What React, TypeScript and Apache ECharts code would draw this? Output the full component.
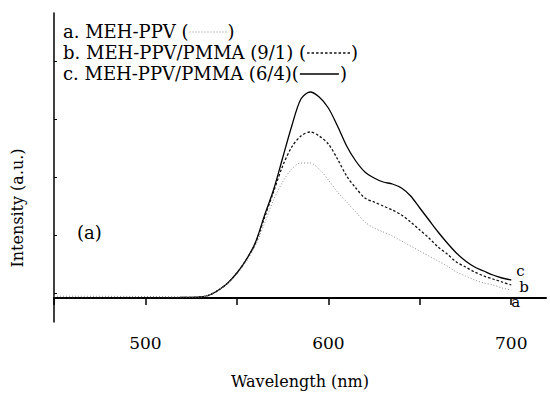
import React, { useEffect, useRef } from 'react';
import * as echarts from 'echarts';

const wavelengths = [450, 500, 520, 530, 535, 540, 545, 550, 555, 560, 565, 570, 575, 580, 585, 590, 595, 600, 605, 610, 615, 620, 625, 630, 635, 640, 645, 650, 655, 660, 665, 670, 675, 680, 685, 690, 695, 700];
const seriesA = [1.8, 1.5, 1.2, 1, 3, 8, 15, 24, 36, 52, 74, 98, 116, 129, 135, 135, 129, 118, 106, 96, 86, 76, 70, 66, 62, 57, 52, 47, 42, 37, 32, 26, 22, 18, 15, 13, 10, 8];
const seriesB = [0, 0, 0.5, 1, 3, 8, 15, 25, 38, 54, 80, 106, 132, 151, 162, 166, 162, 154, 139, 122, 110, 100, 96, 92, 88, 83, 76, 68, 60, 51, 44, 36, 31, 26, 22, 19, 16, 13];
const seriesC = [0, 0, 0.5, 1, 3, 8, 15, 25, 38, 55, 82, 108, 140, 172, 199, 206, 201, 190, 172, 152, 137, 126, 120, 116, 114, 110, 102, 90, 78, 66, 55, 45, 37, 31, 27, 23, 20, 18];

const seriesNames = ['a', 'b', 'c'];
const legendTexts = ['a. MEH-PPV (', 'b. MEH-PPV/PMMA (9/1) (', 'c. MEH-PPV/PMMA (6/4)('];
const xTickValues = [450, 500, 550, 600, 650, 700];
const xLabelValues = [500, 600, 700];
const yTickValues = [5, 63, 121, 179, 237];
const xAxisTitle = 'Wavelength (nm)';
const yAxisTitle = 'Intensity (a.u.)';
const panelLabel = '(a)';

const FONT = 'DejaVu Serif';

const lineStyles = [
  { color: '#8a8a8a', width: 1, type: [1, 2] as any },
  { color: '#111', width: 1.3, type: [2.5, 2] as any },
  { color: '#000', width: 1.3, type: 'solid' as any },
];

function measure(text: string, size: number) {
  const c = document.createElement('canvas').getContext('2d');
  if (!c) return text.length * size * 0.6;
  c.font = `${size}px "DejaVu Serif"`;
  return c.measureText(text).width;
}

export default function App() {
  const ref = useRef<HTMLDivElement>(null);
  useEffect(() => {
    if (!ref.current) return;
    const chart = echarts.init(ref.current, undefined, { renderer: 'svg' });
    const legendSize = 18;
    const rowCenters = [31, 52, 73];
    const sampleLens = [40, 46, 42];
    const graphics: any[] = [];
    legendTexts.forEach((t, i) => {
      const w = measure(t, legendSize);
      const x0 = 63;
      const y = rowCenters[i];
      graphics.push({
        type: 'text', x: x0, y,
        style: { text: t, fontFamily: FONT, fontSize: legendSize, fill: '#000', verticalAlign: 'middle', align: 'left' },
      });
      const ls = lineStyles[i];
      graphics.push({
        type: 'line',
        shape: { x1: x0 + w + 1, y1: y + 1, x2: x0 + w + sampleLens[i] - 2, y2: y + 1 },
        style: { stroke: ls.color, lineWidth: ls.width, lineDash: ls.type === 'solid' ? null : ls.type },
      });
      graphics.push({
        type: 'text', x: x0 + w + sampleLens[i] - 1, y,
        style: { text: ')', fontFamily: FONT, fontSize: legendSize, fill: '#000', verticalAlign: 'middle', align: 'left' },
      });
    });
    graphics.push({
      type: 'text', x: 77, y: 232,
      style: { text: panelLabel, fontFamily: FONT, fontSize: 18, fill: '#000', verticalAlign: 'middle' },
    });
    graphics.push({
      type: 'text', x: 17, y: 208, rotation: Math.PI / 2,
      style: { text: yAxisTitle, fontFamily: FONT, fontSize: 16, fill: '#000', align: 'center', verticalAlign: 'middle' },
    });

    const dataSets = [seriesA, seriesB, seriesC];
    const endOffsets = [[-8, 12], [0, 2], [-3, -9]];
    chart.setOption({
      animation: false,
      backgroundColor: '#fff',
      grid: { left: 54, right: 4, top: 13, bottom: 79 },
      xAxis: {
        type: 'value', min: 450, max: 719, interval: 50,
        axisLine: { lineStyle: { color: '#000', width: 2 } },
        axisTick: { show: true, length: 7, inside: false, customValues: xTickValues, lineStyle: { color: '#000', width: 1.5 } },
        axisLabel: {
          customValues: xLabelValues, margin: 12, fontSize: 17, color: '#000', fontFamily: FONT,
          formatter: (v: number) => (v % 100 === 0 ? String(v) : ''),
        },
        splitLine: { show: false },
        name: xAxisTitle, nameLocation: 'middle', nameGap: 51,
        nameTextStyle: { fontSize: 16, color: '#000', fontFamily: FONT },
      },
      yAxis: {
        type: 'value', min: -24, max: 285,
        axisLine: { show: true, lineStyle: { color: '#000', width: 1.5 } },
        axisTick: { show: true, inside: true, length: 3, customValues: yTickValues, lineStyle: { color: '#000', width: 1 } },
        axisLabel: { show: false },
        splitLine: { show: false },
      },
      series: dataSets.map((d, i) => ({
        name: seriesNames[i],
        type: 'line',
        data: wavelengths.map((w, k) => [w, d[k]]),
        showSymbol: false,
        smooth: 0.3,
        lineStyle: { color: lineStyles[i].color, width: lineStyles[i].width, type: lineStyles[i].type },
        endLabel: {
          show: true, formatter: seriesNames[i], offset: endOffsets[i],
          fontSize: 15, color: '#000', fontFamily: FONT,
        },
        z: 3 - i,
      })),
      graphic: graphics,
    });
    return () => chart.dispose();
  }, []);
  return (
    <div
      ref={ref}
      style={{ position: 'absolute', left: 0, top: 0, width: 550, height: 401, background: '#fff' }}
    />
  );
}
